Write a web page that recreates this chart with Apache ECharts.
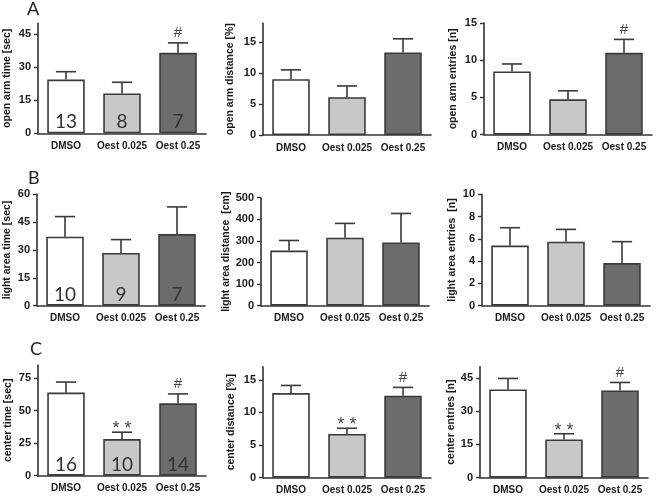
<!DOCTYPE html>
<html><head><meta charset="utf-8">
<script src="https://cdn.jsdelivr.net/npm/echarts@6/dist/echarts.min.js"></script>
<style>html,body{margin:0;padding:0;background:#fff}#c{width:658px;height:496px}</style>
</head><body><div id="c"></div>
<script>
const categories = ['DMSO', 'Oest 0.025', 'Oest 0.25'];

// Row A
const openArmTime = [24.4, 18.1, 36.6];
const openArmTimeSem = [3.6, 5.1, 4.5];
const openArmDistance = [9.0, 6.1, 13.3];
const openArmDistanceSem = [1.5, 1.8, 2.2];
const openArmEntries = [8.5, 4.75, 11.0];
const openArmEntriesSem = [1.0, 1.15, 1.8];
const nA = [13, 8, 7];

// Row B
const lightAreaTime = [37.2, 28.4, 38.6];
const lightAreaTimeSem = [10.8, 7.2, 14.6];
const lightAreaDistance = [255, 315, 293];
const lightAreaDistanceSem = [47, 66, 134];
const lightAreaEntries = [5.4, 5.75, 3.83];
const lightAreaEntriesSem = [1.6, 1.1, 1.92];
const nB = [10, 9, 7];

// Row C
const centerTime = [63.8, 28.1, 55.6];
const centerTimeSem = [8.1, 5.3, 7.2];
const centerDistance = [12.96, 6.71, 12.56];
const centerDistanceSem = [1.17, 0.86, 1.27];
const centerEntries = [39.75, 17.25, 39.3];
const centerEntriesSem = [4.95, 2.55, 3.6];
const nC = [16, 10, 14];

// Significance marks
const sigOpenArm = ['', '', '#'];
const sigCenter = ['', '**', '#'];

// Tick labels
const ticksA1 = [0, 15, 30, 45];
const ticksA2 = [0, 5, 10, 15];
const ticksA3 = [0, 5, 10, 15];
const ticksB1 = [0, 15, 30, 45, 60];
const ticksB2 = [0, 100, 200, 300, 400, 500];
const ticksB3 = [0, 2, 4, 6, 8, 10];
const ticksC1 = [0, 25, 50, 75];
const ticksC2 = [0, 5, 10, 15];
const ticksC3 = [0, 15, 30, 45];

const panels = [
  {left: 38, top: 23.3, zero: 133.3, max: 50, ticks: ticksA1, name: 'open arm time [sec]', gap: 25, mean: openArmTime, sem: openArmTimeSem, n: nA, sig: sigOpenArm},
  {left: 263, top: 23.3, zero: 135, max: 18, ticks: ticksA2, name: 'open arm distance [%]', gap: 27, mean: openArmDistance, sem: openArmDistanceSem, n: null, sig: null},
  {left: 484, top: 23, zero: 134.7, max: 15, ticks: ticksA3, name: 'open arm entries [n]', gap: 25, mean: openArmEntries, sem: openArmEntriesSem, n: null, sig: sigOpenArm},
  {left: 37, top: 194.3, zero: 305.7, max: 60, ticks: ticksB1, name: 'light area time [sec]', gap: 24, mean: lightAreaTime, sem: lightAreaTimeSem, n: nB, sig: null},
  {left: 261, top: 197.7, zero: 305.7, max: 500, ticks: ticksB2, name: 'light area distance  [cm]', gap: 27, mean: lightAreaDistance, sem: lightAreaDistanceSem, n: null, sig: null},
  {left: 482, top: 194.3, zero: 305.7, max: 10, ticks: ticksB3, name: 'light area entries  [n]', gap: 24, mean: lightAreaEntries, sem: lightAreaEntriesSem, n: null, sig: null},
  {left: 38, top: 365, zero: 475.7, max: 85, ticks: ticksC1, name: 'center time [sec]', gap: 24, mean: centerTime, sem: centerTimeSem, n: nC, sig: sigCenter},
  {left: 263, top: 366.7, zero: 477.7, max: 17, ticks: ticksC2, name: 'center distance [%]', gap: 26, mean: centerDistance, sem: centerDistanceSem, n: null, sig: sigCenter},
  {left: 480, top: 366.7, zero: 477.7, max: 50, ticks: ticksC3, name: 'center entries [n]', gap: 23, mean: centerEntries, sem: centerEntriesSem, n: null, sig: sigCenter}
];

const fills = ['#ffffff', '#c8c8c8', '#6c6c6c'];
const ink = '#333333';
const grids = [], xAxes = [], yAxes = [], series = [];

panels.forEach((p, i) => {
  grids.push({left: p.left, top: p.top, width: 168, height: p.zero - p.top, containLabel: false, outerBoundsMode: 'none'});
  xAxes.push({
    gridIndex: i, type: 'category', data: categories,
    axisLine: {lineStyle: {color: ink, width: 1.6}},
    axisTick: {alignWithLabel: true, length: 4, lineStyle: {color: ink, width: 1.4}},
    axisLabel: {interval: 0, hideOverlap: false, margin: 8, color: '#1a1a1a', fontFamily: 'Liberation Sans', fontWeight: 'bold', fontSize: 10}
  });
  yAxes.push({
    gridIndex: i, type: 'value', min: 0, max: p.max,
    name: p.name, nameLocation: 'middle', nameGap: p.gap, nameRotate: 90,
    nameTextStyle: {color: '#1a1a1a', fontFamily: 'Liberation Sans', fontWeight: 'bold', fontSize: 10.5},
    splitLine: {show: false},
    axisLine: {show: true, lineStyle: {color: ink, width: 1.6}},
    axisTick: {show: true, length: 4, customValues: p.ticks, lineStyle: {color: ink, width: 1.4}},
    axisLabel: {customValues: p.ticks, margin: 7, color: '#1a1a1a', fontFamily: 'Liberation Sans', fontWeight: 'bold', fontSize: 11}
  });
  series.push({
    type: 'bar', xAxisIndex: i, yAxisIndex: i, barWidth: '67%',
    itemStyle: {borderColor: '#3a3a3a', borderWidth: 1.6},
    data: p.mean.map((v, j) => ({value: v, itemStyle: {color: fills[j]}})),
    silent: true, animation: false
  });
  const sig = p.sig, n = p.n;
  series.push({
    type: 'custom', xAxisIndex: i, yAxisIndex: i, z: 5, animation: false, silent: true,
    data: p.mean.map((v, j) => [j, v, v + p.sem[j]]),
    renderItem: function (params, api) {
      const x = api.value(0);
      const p0 = api.coord([x, api.value(1)]);
      const p1 = api.coord([x, api.value(2)]);
      const half = api.size([1, 0])[0] * 0.18;
      const st = {stroke: '#3a3a3a', lineWidth: 1.6};
      const children = [
        {type: 'line', shape: {x1: p0[0], y1: p0[1], x2: p1[0], y2: p1[1]}, style: st},
        {type: 'line', shape: {x1: p1[0] - half, y1: p1[1], x2: p1[0] + half, y2: p1[1]}, style: st}
      ];
      const idx = params.dataIndex;
      if (sig && sig[idx]) {
        const isStar = sig[idx] === '**';
        children.push({type: 'text', style: {
          text: isStar ? '* *' : '#', x: p1[0], y: p1[1] - (isStar ? 3 : 10),
          align: 'center', textAlign: 'center', verticalAlign: 'middle', textVerticalAlign: 'middle',
          font: (isStar ? '18px' : '15px') + ' "Liberation Sans"', fill: '#444'
        }});
      }
      if (n) {
        const z = api.coord([x, 0]);
        children.push({type: 'text', style: {
          text: String(n[idx]), x: z[0], y: z[1] - 11,
          align: 'center', textAlign: 'center', verticalAlign: 'middle', textVerticalAlign: 'middle',
          font: '19px Lato', fill: '#333'
        }});
      }
      return {type: 'group', children: children};
    }
  });
});

const chart = echarts.init(document.getElementById('c'), null, {renderer: 'canvas'});
chart.setOption({
  backgroundColor: '#ffffff',
  animation: false,
  grid: grids, xAxis: xAxes, yAxis: yAxes, series: series,
  graphic: [
    {type: 'text', left: 27, top: 0, style: {text: 'A', font: '18px Lato', fill: '#222'}},
    {type: 'text', left: 28, top: 169, style: {text: 'B', font: '18px Lato', fill: '#222'}},
    {type: 'text', left: 30, top: 340, style: {text: 'C', font: '18px Lato', fill: '#222'}}
  ]
});
</script></body></html>
